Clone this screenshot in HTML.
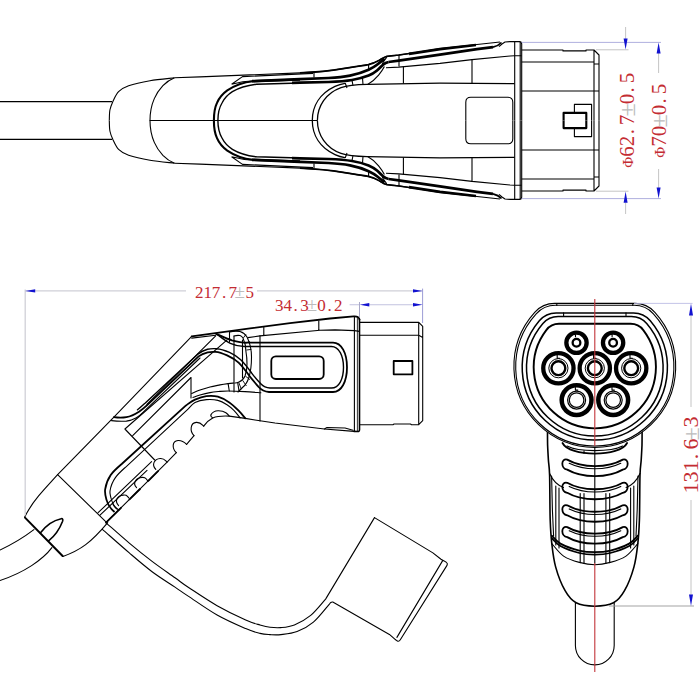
<!DOCTYPE html>
<html lang="en">
<head>
<meta charset="utf-8">
<title>EV charging connector drawing</title>
<style>
html,body{margin:0;padding:0;background:#fff;width:700px;height:700px;overflow:hidden}
svg{display:block}
.k{fill:none;stroke:#000;stroke-width:1.1;stroke-linecap:round;stroke-linejoin:round}
.k2{fill:none;stroke:#000;stroke-width:1.8;stroke-linecap:round;stroke-linejoin:round}
.k3{fill:none;stroke:#000;stroke-width:2.4;stroke-linecap:round;stroke-linejoin:round}
#tvhalf path{stroke-linecap:butt}
.d{fill:none;stroke:#bcbce4;stroke-width:.9}
.g{fill:none;stroke:#bdbdbd;stroke-width:.9}
.a{fill:#1212d0;stroke:none}
.t{font-family:"Liberation Serif","Noto Serif CJK SC",serif;fill:#c42c32}
.pm{fill:#bcbcbc}
</style>
</head>
<body>
<svg width="700" height="700" viewBox="0 0 700 700">
<rect width="700" height="700" fill="#fff"/>

<!-- ================= TOP VIEW ================= -->
<g id="topview">
<defs>
<g id="tvhalf">
  <!-- cable -->
  <path class="k" d="M0 101.6H112"/>
  <!-- nose -->
  <path class="k" d="M109.3 120.5C109.4 118.8 109.3 113.2 109.9 110.0C110.5 106.8 111.5 104.5 112.9 101.4C114.4 98.3 116.0 94.2 118.6 91.6C121.2 89.0 123.4 87.5 128.6 85.7C133.8 83.9 142.3 82.0 150.0 80.7C157.7 79.4 170.4 78.3 174.5 77.8"/>
  <path class="k" d="M174.5 77.8C169 80 166 82.5 162.9 85.7C158.5 90.5 156 94.5 154.3 98.6C151.5 105 150 112 150 120.5"/>
  <!-- outer outline -->
  <path class="k" d="M174.5 77.8L200 76.9L300 72.9C320 72 332 70.5 343 68.6C353 67 361 66 368.6 64.3C373 63.2 376 62 378.6 60.6C381.5 59 383.5 57.2 386.4 56.5L398.7 55.1L411 53.3L440 48.6L477 44.5L500 42M499 46.6L502 44L505 42L510 41.6H519.4Q521.7 41.7 521.7 44V120.5"/>
  <path class="k2" style="stroke-width:1.6" d="M300 72.9C320 72 332 70.5 343 68.6C353 67 361 66 368.6 64.6C373 63.6 376 62.2 378.6 60.6C381.5 59 383.5 57.2 386.4 56.4L398.7 55L411 53.2"/>
  <!-- flange -->
  <path class="k" d="M514.7 42V120.5M520.2 42V120.5"/>
  <!-- plug -->
  <path class="k" d="M521.7 50H563V50.9H586V50H594L599 55V120.5M594 50V120.5M521.7 62H594V64H599M521.7 91H599"/>
  <!-- fins near U -->
  <path class="k" d="M231.6 84.2L242.5 76.6L313 73.4M231.6 84.2C238 82.4 246 81 254 80.8"/>
  <!-- big U double, continuing into bands -->
  <path class="k2" style="stroke-width:2.1" d="M213.9 120.5C213.9 112 215 107 217 102.9C220 96 223 93.5 227.3 90.4C233 86.5 242 82.3 253 81.2L300 79.6"/>
  <path class="k" style="stroke-width:1.4" d="M217.9 120.5C217.9 113 219 108 222 103C225 97 228 94.5 232.4 91.7C238 88.3 246 85.5 256.5 84.2L300 83"/>
  <!-- band 2 (thick) -->
  <path class="k3" style="stroke-width:2.7" d="M252 81.2L300 79.2L328.6 78C338 77.5 344 76.8 350 75.6C357 74.2 363 72.4 368.6 69.8C372 68.2 374.5 66.8 377 64.8C380 62.3 382 60.8 384.6 58.8"/>
  <!-- band 3 (thick) -->
  <path class="k3" style="stroke-width:2.7" d="M292 82.9L300 82.6L328.6 82C338 81.6 346 81 352 80C358 79 363.5 77.6 368.6 75.6C372 74.2 374.5 72.6 377 70.5C379.5 68.4 381 66.6 383 64.8C385 63 386.5 62.4 388.6 62"/>
  <path class="k3" style="stroke-width:2.7" d="M388.6 62L398.7 60.7L440 54.6L477 49.2L493 47.2"/>
  <path class="k2" d="M493 47.2C496.5 46.4 499.5 44.6 501.5 42.5"/>
  <!-- band upper line right of hook -->
  <path class="k3" style="stroke-width:2.6" d="M409 53.9L440 49.1L476 45"/>

  <!-- hook -->
  <path class="k" d="M386.8 57.2C385 59.5 383.5 61.5 382.2 64M384.4 66.6C383 69.5 381 72.2 378.6 75.2C375 79.6 371.5 82.4 367.6 84.5"/>
  <!-- below band line -->
  <path class="k" d="M386 67.8L398.7 67.1L440 63.4L472 59.6L510 56L514.6 55.7H521.5"/>
  <!-- inner tongue -->
  <path class="k" style="stroke-width:1.3" d="M514.6 83.6L440 83.2L367 84.4C358 84.6 348 85.2 341 87.6C326 93 317.4 106 317.4 120.5"/>
  <path class="k" style="stroke-width:1.3" d="M345 83.4C341 84 338 85 335 86.4C320 93.5 312.3 106 312.3 120.5"/>
  <!-- ticks -->
  <path class="k" d="M314 73V77.5M368.6 64.6V69.5M399 55.2V66.4M403.4 66.4V83.5M472 59.4V83.2M345.2 83L347 88M352 80.4L353 85.5M362.5 78L363 84.6"/>
  <!-- window -->
  <path class="k" d="M465.8 120.5V102.2Q465.8 97.2 470.8 97.2H507.8Q512.8 97.2 512.8 102.2V120.5"/>
  <!-- latch rects -->
  <path class="k" d="M574.4 112.6V104.4H591.6V120.5"/>
  <path class="k3" style="stroke-width:2.1" d="M563.6 120.5V112.9H586.3V120.5"/>
</g>
</defs>
<use href="#tvhalf"/>
<use href="#tvhalf" transform="matrix(1 0 0 -1 0 241)"/>
<path class="k" d="M150 120.5H317"/>
</g>

<!-- top view dimensions -->
<path class="d" style="stroke:#a6a6da" d="M521.5 42.4H661M521.5 198.6H661"/>
<path class="g" d="M596 49.8H628.5M596 191.2H628.5M625.6 27V39M625.6 203V214M658.6 53V73M658.6 169V188"/>
<path class="a" d="M623.6 38.4h4L625.6 49.6zM623.6 202.8h4L625.6 191.4zM656.6 53.6h4L658.6 42.4zM656.6 187.4h4L658.6 198.6z"/>
<text class="t" font-size="21" transform="translate(633.5 167.5) rotate(-90)"><tspan font-size="15" x="-0.3" y="-1">Φ</tspan><tspan x="10.8 21.3 33.3 42.3" y="0">62.7</tspan><tspan class="pm" font-size="24" x="51" y="1">±</tspan><tspan x="63.3 75 84.3" y="0">0.5</tspan></text>
<text class="t" font-size="21" transform="translate(666 157.5) rotate(-90)"><tspan font-size="15" x="-0.3" y="-1">Φ</tspan><tspan x="10.8 21.3" y="0">70</tspan><tspan class="pm" font-size="24" x="30" y="1">±</tspan><tspan x="42.3 54 63.3" y="0">0.5</tspan></text>
<!-- ================= SIDE VIEW ================= -->
<g id="sideview">
  <!-- outer body outline -->
  <path class="k" d="M24.6 517.2C29 508.5 33.5 502 38.6 495.9C45 488 51 482 57.6 474.6L113.9 417.2L191.7 336.4M354 431.4L324.4 429L275 423L255 420L245.3 418.4"/>
  <path class="k2" style="stroke-width:1.6" d="M359.5 319.5V429.8Q359.5 431.6 357.6 431.5L354 431.4"/>
  <path class="k2" d="M191.7 336.4L250 328.4L290 323.2L330 318.5L353.6 316.4Q358.8 316 359.5 319.5"/>
  <!-- bevel under top edge -->
  <path class="k" d="M191.7 338.1L215.7 335.3"/>
  <!-- flange -->
  <path class="k" d="M354.4 316.5V431.4"/>
  <path class="k" style="stroke-width:.8" d="M357.4 316.6V431.4"/>
  <!-- second line under top outline -->
  <path class="k" d="M248 337.6L260 335.9L320 330.2L335 329.9L354.4 330.6L359.5 331.4M263.8 327.4V335.6M318.8 321V330.2"/>
  <!-- plug -->
  <path class="k" d="M359.5 322.4H418.8L422.7 326.4V420.6L418.7 424.7H411.5L410.5 424H394L393 424.7H359.5M418.7 322.4V424.7M359.5 335.3H418.8L422.7 337.4"/>
  <path class="k2" d="M393.7 361H412.4V374.3H393.7Z"/>
  <!-- small latch at bottom -->
  <path class="k" d="M324.4 429L327 427.5L345 428L353 430.2"/>
  <!-- seam -->
  <path class="k" d="M260 335.8V421"/>
  <!-- window -->
  <rect class="k2" x="271.3" y="356.4" width="52.4" height="22.6" rx="4.5" ry="4.5"/>
  <!-- tongue loop: outer -->
  <path class="k2" d="M216.1 333.9C220 335.4 226 338.4 231.9 340.3C237 341.6 241 342.6 246 342.6H333C341.5 342.6 347 353 347 367.3C347 381.5 341.5 392 333 392H269C264.5 391.6 261 389.6 258.6 387C255 382.8 252.5 380 249.1 375.5C245.5 370.5 243 367 238.6 362.7C235 359.3 231.5 357.4 227.1 355.4C223 353.6 219.5 352.2 215.7 351.9C212.5 351.7 210.5 351.7 207.7 352.4C204 353.3 201.5 354.2 198.6 356.4L146.9 405.4C144.5 407.6 142 409.8 139 411.7C135 414.2 131 416.3 126.4 417.2C122 418 118 417.8 113.9 417.2"/>
  <!-- tongue loop: inner -->
  <path class="k" style="stroke-width:1.4" d="M217.4 334.6C221 337.4 226 341.4 230.3 343.3C235 345.4 240 346.5 244.4 346.5H331.5C339 346.5 343.5 356 343.5 367.3C343.5 379 339 388 331.5 388H270C266.5 387.8 263.5 386.6 261 384C257.5 380.3 254.5 377 251.5 372.8C248 368 245.5 364.5 241 360C237.5 356.6 233.5 354.2 229.5 352.4C225.5 350.6 221 349 216.5 348.7C213 348.5 210.5 348.5 207.5 349.3C203.5 350.3 200.5 352 197.5 354.4L145.3 403C143 405 140.5 407.6 137.5 409.8"/>
  <path class="k" d="M111.5 420.6C116 421.2 121 421.6 126.4 421.1C130 420.6 133 419.6 135.9 418C139.5 416 142.5 413 145.3 410.1L200 358"/>
  <!-- band upper edge A -->
  <path class="k" d="M215.7 335.9L146.9 404.4"/>
  <!-- parallelogram -->
  <path class="k" d="M227.1 339.9L124.9 429L154.7 460"/>
  <path class="k" d="M132.7 435.7L191 377.5V398"/>
  <!-- oval -->
  <path class="k" d="M234 336V392M229.5 332.2V342M242.5 340V378"/>
  <path class="k" d="M230 332C233 331 237 331 240 331.5C243.5 332.5 245.5 334.5 247 337C250 343 251.5 350 251.5 357C251.5 365 250.5 372 249 377C247.5 382 245.5 385 243 387C241.5 388.5 240 390 238 392"/>
  <path class="k" d="M234 336C236 335.4 238 335.2 240 335.5C241.5 336 242.3 337 243 338C244.8 342 246 347 246 352C246.8 356 247 360 247 364C247 368 246.3 372.5 245 376C243.8 379 241.5 381 239 382C237.5 382.7 236 383 235 383"/>
  <path class="k" style="stroke-width:.9" d="M243.6 337.6L245.8 334.6M245.6 343.2L249.3 341.6M246.8 350L251 349.4M245.8 376.4L249.6 379.4M242.8 380.6L246.2 385.6M238.8 382.6L241.2 388.8"/>
  <!-- arm curves -->
  <path class="k" d="M191.7 393.6C193.1 393.0 196.9 391.1 200.0 390.0C203.1 388.9 206.7 387.9 210.0 387.0C213.3 386.1 217.0 385.5 220.0 384.9C223.0 384.3 225.8 383.9 228.1 383.6C230.4 383.3 232.9 383.1 233.9 383.0"/>
  <path class="k" d="M192.9 397.4C194.1 397.0 197.2 395.8 200.0 395.0C202.8 394.2 206.7 393.2 210.0 392.6C213.3 392.0 217.0 391.7 220.0 391.4C223.0 391.1 223.9 391.0 228.1 391.0C232.3 391.0 239.5 391.3 245.0 391.6C250.5 391.9 258.2 392.6 260.9 392.8"/>
  <path class="k" d="M228.1 383.6L229.3 391M237.8 383.4L239 390.6"/>
  <!-- grip nested curves -->
  <path class="k2" d="M114 511.5C110.5 508.5 107.6 504 106.4 499.4C105.2 495 104.6 492 105.2 489.1C106 484 108 479 110.7 475C113.5 471 117 468 121.7 464L186 405.4C187.5 404.4 191.6 401.2 195.0 399.6C198.4 398.1 202.6 396.6 206.4 396.1C210.2 395.6 214.1 395.6 217.9 396.7C221.7 397.8 225.9 400.1 229.3 402.4C232.7 404.7 235.7 407.7 238.4 410.4C241.1 413.1 244.2 417.1 245.3 418.4"/>
  <path class="k" d="M117 509C114.5 506.5 112 502.5 111 498C110.2 494.5 109.6 493.5 110 491C110.8 486 112.6 481.5 115.4 477.6C118.2 473.6 122 470.4 126 466.8L188 409.2C189.2 408.1 191.9 404.0 195.0 402.4C198.1 400.8 202.6 399.9 206.4 399.6C210.2 399.3 214.5 399.5 217.9 400.4C221.3 401.2 224.3 403.0 227.0 404.7C229.7 406.4 231.7 408.2 233.9 410.4C236.1 412.6 239.1 416.6 240.1 417.9"/>
  <path class="k" d="M119 510C116 508.5 113.5 506.5 112.5 503"/>
  <!-- handle inner edge + parallel lines -->
  <path class="k" d="M106 522.6L167.1 462.2L176.3 452.7M186.6 444.4L194 435.6M203.7 426.1C206 422.5 209 419.8 212.7 417.9C218 415.8 224 415.8 229.3 416.1L245.3 418.4"/>
  <path class="k2" d="M106 522.6L121 507.8M129.5 499.4L140 489M148.3 480.8L158 471.2"/>
  <path class="k" d="M98.1 512.7L151.6 461.6M100 515.2L147 470.4"/>
  <!-- bumps -->
  <path class="k" d="M118.6 505.6C114.1 501.1 117.3 495.6 123.3 495.1C127.3 494.8 126.3 495.3 128.8 497.8"/>
  <path class="k" d="M136.6 487.6C132.1 483.1 136.1 477.9 142.1 477.4C146.1 477.1 145.1 478.0 147.6 480.5"/>
  <path class="k" d="M155.8 469.3C151.3 464.8 154.2 459.0 160.2 458.5C164.2 458.2 164.6 459.7 167.1 462.2"/>
  <path class="k" d="M176.3 452.7C171.8 448.2 172.0 441.0 178 440.5C182.0 440.2 184.1 441.9 186.6 444.4"/>
  <path class="k" d="M194 435.6C189.5 431.1 190.3 422.9 196.3 422.4C200.3 422.1 201.2 423.6 203.7 426.1"/>
  <path class="k" d="M212.7 417.9C210.8 416.6 210.4 415.6 211 414.6C212.5 412 215 410.8 218 410.7C221.5 410.6 224 411.4 225.9 412.7C227.5 413.8 228.5 415 229.3 416.1"/>
  <!-- seam to gland -->
  <path class="k" d="M57.6 474.6L107 522.9"/>
  <!-- end cap -->
  <path class="k3" style="stroke-width:2" d="M25 517.6L62.6 556"/>
  <!-- gland lower -->
  <path class="k" d="M62.9 556.4C72 553.2 79 549.6 85.7 544.6C94 538.4 101 530.6 107.7 522.6"/>
  <!-- teardrop -->
  <path class="k2" style="stroke-width:1.6" d="M40.3 533C45.5 526 53 520.4 61.2 518.7C62.8 518.5 63.1 519.6 62.6 521.2C59.4 529.5 54.5 536.2 48.6 540.8"/>
  <!-- cable -->
  <path class="k" d="M33.9 529.6C25 536.4 14 543.4 0 550M51.9 547.7C43 559.6 24 572.6 0 580.5"/>
  <!-- strap -->
  <path class="k" d="M106.4 523.1C110.2 526.4 121.7 536.7 129.3 543.1C136.9 549.5 144.5 555.6 152.1 561.4C159.7 567.2 168.9 573.4 175.0 577.8C181.1 582.1 181.6 582.9 188.6 587.5C195.6 592.1 207.6 600.3 217.1 605.7C226.6 611.1 238.5 616.8 245.7 620.0C252.8 623.2 255.9 623.8 260.0 625.0C264.1 626.2 266.5 626.9 270.0 627.3C273.5 627.7 276.8 628.0 280.9 627.6C285.0 627.2 289.4 626.9 294.4 624.9C299.4 622.9 305.5 619.7 310.7 615.4C315.9 611.1 323.1 601.8 325.6 599.1L374.5 517.6"/>
  <path class="k" d="M102.4 529.4C106.9 533.3 121.0 545.8 129.3 552.9C137.6 560.0 144.5 566.0 152.1 571.7C159.7 577.4 168.9 583.0 175.0 587.1C181.1 591.2 181.6 591.8 188.6 596.4C195.6 601.0 207.6 609.6 217.1 615.0C226.6 620.4 238.5 625.5 245.7 628.6C252.8 631.7 255.9 632.4 260.0 633.4C264.1 634.4 266.5 634.4 270.0 634.6C273.5 634.8 276.4 635.1 280.9 634.6C285.4 634.1 291.7 633.7 297.1 631.6C302.5 629.5 308.0 626.7 313.4 622.1C318.8 617.5 326.9 606.8 329.6 603.8Q330.8 601.6 332.8 602L389.4 634.4L395.4 639.6"/>
  <!-- cap -->
  <path class="k" d="M374.5 517.6L432.9 552.9L441 559.2C443.5 560.8 445 561 446.4 562.4C447.6 563.4 447.8 564.2 447 565.4L400.3 639.8C399.4 641.2 398.4 641.6 397.4 641L395.4 639.6"/>
  <path class="k" d="M442.8 560.4L396.9 637.4"/>
</g>

<!-- side view dimensions -->
<path d="M25.2 289.5V515.5M25.2 290.9H186M257 290.9H422.6" fill="none" stroke="#d0d0d8" stroke-width="1.3"/>
<path d="M368 304.7H414M349.6 304.7H360" fill="none" stroke="#c2c2e0" stroke-width="1.1"/>
<path d="M422.6 288.6V323" fill="none" stroke="#9c9cd6" stroke-width="1"/>
<path d="M359.5 302V317" fill="none" stroke="#a8a8c8" stroke-width="1"/>
<path class="a" d="M25.2 290.9l10-1.7v3.4zM422.6 290.9l-9.6-1.7v3.4zM422.6 304.7l-9.6-1.7v3.4zM359.7 304.7l9.6-1.7v3.4z"/>
<text class="t" font-size="17"><tspan x="195 203.4 211.8 222 228.6" y="297.6">217.7</tspan><tspan class="pm" font-size="19" x="234.6" y="297.8">±</tspan><tspan x="245.6" y="297.6">5</tspan></text>
<text class="t" font-size="17"><tspan x="275 283.4 293.6 300.2" y="310.8">34.3</tspan><tspan class="pm" font-size="19" x="306.8" y="311">±</tspan><tspan x="317.2 327.6 334" y="310.8">0.2</tspan></text>
<!-- ================= FRONT VIEW ================= -->
<g id="frontview">
  <!-- handle -->
  <path class="k2" style="stroke-width:1.6" d="M547.5 430.0C547.5 432.5 547.5 440.0 547.6 445.0C547.8 450.0 548.1 455.0 548.4 460.0C548.7 465.0 549.3 465.0 549.6 475.0C549.9 485.0 549.8 508.6 550.2 520.0C550.6 531.4 550.9 535.8 551.8 543.6C552.7 551.5 553.5 559.2 555.7 567.1C557.9 575.0 561.7 584.8 565.1 590.7C568.5 596.7 571.2 600.2 576.1 602.8C581.0 605.4 588.6 606.2 594.8 606.2C601.0 606.2 608.5 605.4 613.5 602.8C618.4 600.2 621.1 596.7 624.5 590.7C627.9 584.8 631.7 575.0 633.9 567.1C636.1 559.2 636.9 551.5 637.8 543.6C638.7 535.8 639.0 531.4 639.4 520.0C639.8 508.6 639.7 485.0 640.0 475.0C640.3 465.0 640.9 465.0 641.2 460.0C641.5 455.0 641.8 450.0 642.0 445.0C642.1 440.0 642.1 432.5 642.1 430.0"/>
  <path class="k" d="M551.6 476L552.4 510L553.6 536M638 476L637.2 510L636 536"/>
  <!-- cable -->
  <path class="k" d="M575.4 602.6V645.5A19.4 19.4 0 0 0 614.2 645.5V602.6"/>
  <!-- lower rings -->
  <path class="k2" d="M551.8 535.7C553.2 537.0 555.8 541.1 560.4 543.6C565.0 546.1 573.6 549.2 579.3 550.6C585.0 552.0 589.6 552.2 594.8 552.2C600.0 552.2 604.6 552.0 610.3 550.6C616.0 549.2 624.6 546.1 629.2 543.6C633.8 541.1 636.4 537.0 637.8 535.7"/>
  <path class="k2" d="M551.9 538.3C553.3 539.6 555.8 543.5 560.4 546.0C565.0 548.5 573.6 551.6 579.3 553.0C585.0 554.4 589.6 554.6 594.8 554.6C600.0 554.6 604.6 554.4 610.3 553.0C616.0 551.6 624.6 548.5 629.2 546.0C633.8 543.5 636.3 539.6 637.7 538.3"/>
  <path class="k" d="M551.8 543.6C553.8 545.7 559.0 553.0 563.6 556.1C568.2 559.2 574.1 561.0 579.3 562.4C584.5 563.8 589.6 564.8 594.8 564.8C600.0 564.8 605.1 563.8 610.3 562.4C615.5 561.0 621.4 559.2 626.0 556.1C630.6 553.0 635.8 545.7 637.8 543.6"/>
  <!-- sleeve curve ends -->
  <path class="k" d="M549.6 473.5C552.5 480 557 485 563.5 487.6M640 473.5C637.1 480 632.6 485 626.1 487.6"/>
  <!-- inner verticals -->
  <path class="k" d="M555.8 486V545M559 488V548M630.6 488V548M633.8 486V545M580.2 493.5V562.6M584 493.5V563.4M605.9 493.5V563.4M609.7 493.5V562.6"/>
  <!-- grip slots -->
  <path class="k2" d="M567.2 459.6C582.2 468.2 607.8 468.2 622.8 459.6C629.3 458.1 629.3 468.6 622.8 469.6C607.8 478.2 582.2 478.2 567.2 469.6C560.7 468.6 560.7 458.1 567.2 459.6Z"/>
  <path class="k" d="M569.2 463.2C584.2 470.6 605.8 470.6 620.8 463.2"/>
  <path class="k2" d="M567.2 482.8C582.2 491.4 607.8 491.4 622.8 482.8C629.3 481.3 629.3 491.8 622.8 492.8C607.8 501.4 582.2 501.4 567.2 492.8C560.7 491.8 560.7 481.3 567.2 482.8Z"/>
  <path class="k" d="M569.2 486.4C584.2 493.8 605.8 493.8 620.8 486.4"/>
  <path class="k2" d="M567.2 505.3C582.2 513.9 607.8 513.9 622.8 505.3C629.3 503.8 629.3 514.3 622.8 515.3C607.8 523.9 582.2 523.9 567.2 515.3C560.7 514.3 560.7 503.8 567.2 505.3Z"/>
  <path class="k" d="M569.2 508.9C584.2 516.3 605.8 516.3 620.8 508.9"/>
  <path class="k2" d="M567.2 527.1C582.2 535.7 607.8 535.7 622.8 527.1C629.3 525.6 629.3 536.1 622.8 537.1C607.8 545.7 582.2 545.7 567.2 537.1C560.7 536.1 560.7 525.6 567.2 527.1Z"/>
  <path class="k" d="M569.2 530.7C584.2 538.1 605.8 538.1 620.8 530.7"/>
  <path class="k2" d="M562.5 443C566 450 580 453.6 594.8 453.6C609.6 453.6 623.6 450 627.1 443"/>
  <path class="k" d="M567 446C574 449.6 584 450.6 594.8 450.6C605.6 450.6 615.6 449.6 622.6 446M584 450.4V453.2"/>
  <path class="k" d="M594.8 446V563"/>
  <!-- face outlines -->
  <path class="k" style="fill:#fff" d="M554.8 303.4H634.8A27 27 0 0 1 654.9 312.3A80.9 80.9 0 1 1 534.7 312.3A27 27 0 0 1 554.8 303.4Z"/>
  <path class="k" d="M555.5 305.3H634.1A26 26 0 0 1 653.4 313.8A79.1 79.1 0 1 1 536.2 313.8A26 26 0 0 1 555.5 305.3Z"/>
  <path class="k2" style="stroke-width:1.5" d="M556.1 312.9H633.5A22 22 0 0 1 650.3 320.7A72.6 72.6 0 1 1 539.3 320.7A22 22 0 0 1 556.1 312.9Z"/>
  <path class="k2" style="stroke-width:1.5" d="M558.1 316.4H631.5A20 20 0 0 1 646.7 323.4A68.3 68.3 0 1 1 542.9 323.4A20 20 0 0 1 558.1 316.4Z"/>
  <path class="k2" style="stroke-width:1.9" d="M559.0 323.8H630.6A16 16 0 0 1 643.3 330.1A61.1 61.1 0 1 1 546.3 330.1A16 16 0 0 1 559.0 323.8Z"/>
  <path class="k" d="M563.6 312.9V316.4M626 312.9V316.4M556.8 303.6V305.4M632.8 303.6V305.4"/>
  <!-- pins -->
  <circle cx="576.5" cy="342.8" r="10.15" fill="none" stroke="#000" stroke-width="4.3"/>
  <circle cx="576.5" cy="342.8" r="3.85" fill="none" stroke="#000" stroke-width="2.3"/>
  <path class="k" d="M575.5 334.8V336.8"/>
  <circle cx="613.1" cy="342.8" r="10.15" fill="none" stroke="#000" stroke-width="4.3"/>
  <circle cx="613.1" cy="342.8" r="3.85" fill="none" stroke="#000" stroke-width="2.3"/>
  <path class="k" d="M612.1 334.8V336.8"/>
  <circle cx="558.4" cy="368.2" r="15.15" fill="none" stroke="#000" stroke-width="4.3"/>
  <circle cx="558.4" cy="368.2" r="9.6" fill="none" stroke="#000" stroke-width="1"/>
  <circle cx="558.4" cy="368.2" r="6.9" fill="none" stroke="#000" stroke-width="2.4"/>
  <path class="k" d="M557.1999999999999 355.2V358.2H559.6"/>
  <circle cx="594.8" cy="368.2" r="15.15" fill="none" stroke="#000" stroke-width="4.3"/>
  <circle cx="594.8" cy="368.2" r="9.6" fill="none" stroke="#000" stroke-width="1"/>
  <circle cx="594.8" cy="368.2" r="6.9" fill="none" stroke="#000" stroke-width="2.4"/>
  <path class="k" d="M593.5999999999999 355.2V358.2H596.0"/>
  <circle cx="631.2" cy="368.2" r="15.15" fill="none" stroke="#000" stroke-width="4.3"/>
  <circle cx="631.2" cy="368.2" r="9.6" fill="none" stroke="#000" stroke-width="1"/>
  <circle cx="631.2" cy="368.2" r="6.9" fill="none" stroke="#000" stroke-width="2.4"/>
  <path class="k" d="M630.0 355.2V358.2H632.4000000000001"/>
  <circle cx="576.6" cy="400.1" r="14.9" fill="none" stroke="#000" stroke-width="4.5"/>
  <circle cx="576.6" cy="400.1" r="9" fill="none" stroke="#000" stroke-width="1.2"/>
  <circle cx="576.6" cy="400.1" r="7.3" fill="none" stroke="#000" stroke-width="1.2"/>
  <path class="k" d="M575.4 387.5V390.1H577.8000000000001"/>
  <circle cx="613.2" cy="400.1" r="14.9" fill="none" stroke="#000" stroke-width="4.5"/>
  <circle cx="613.2" cy="400.1" r="9" fill="none" stroke="#000" stroke-width="1.2"/>
  <circle cx="613.2" cy="400.1" r="7.3" fill="none" stroke="#000" stroke-width="1.2"/>
  <path class="k" d="M612.0 387.5V390.1H614.4000000000001"/>
  <!-- red centre line -->
  <path d="M594.8 299V446M594.8 563V672" fill="none" stroke="#c2343a" stroke-width="1.1"/>
</g>
<!-- front view dimensions -->
<path class="d" d="M634 303.4H692.5"/>
<path class="g" style="stroke:#999" d="M609 606H694"/>
<path class="g" d="M691 315V407M691 500V595"/>
<path class="a" d="M689 315.6h4L691 303.6zM689 594.6h4L691 606z"/>
<text class="t" font-size="22" transform="translate(698.2 493.5) rotate(-90)"><tspan x="0 11 22 34.2 44" y="0">131.6</tspan><tspan class="pm" font-size="24" x="53" y="0.8">±</tspan><tspan x="66" y="0">3</tspan></text>
</svg>
</body>
</html>
